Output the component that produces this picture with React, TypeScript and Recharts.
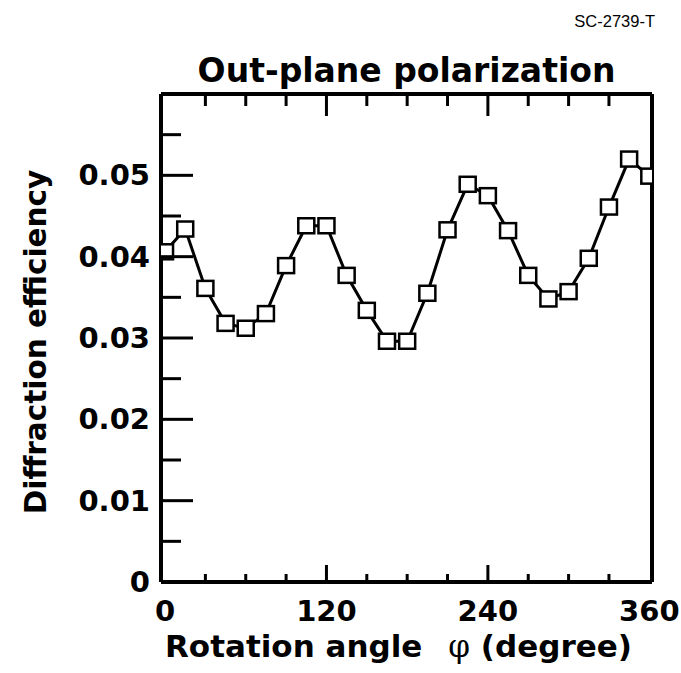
import { LineChart, Line, XAxis, YAxis, Label } from 'recharts';

// rotation angle (deg) and measured diffraction efficiency
const angles = [0, 15, 30, 45, 60, 75, 90, 105, 120, 135, 150, 165, 180, 195, 210, 225, 240, 255, 270, 285, 300, 315, 330, 345, 360];
const efficiency = [
  0.0406, 0.0434, 0.0361, 0.0318, 0.0312, 0.033, 0.0389, 0.0438, 0.0438, 0.0377, 0.0334, 0.0296, 0.0296,
  0.0355, 0.0433, 0.0489, 0.0475, 0.0432, 0.0377, 0.0348, 0.0357, 0.0398, 0.0461, 0.052, 0.0499,
];

const xTicks = [0, 30, 60, 90, 120, 150, 180, 210, 240, 270, 300, 330, 360];
const xLabeled = [0, 120, 240, 360];
const yTicks = [0, 0.005, 0.01, 0.015, 0.02, 0.025, 0.03, 0.035, 0.04, 0.045, 0.05, 0.055, 0.06];
const yLabeled = ['0', '0.01', '0.02', '0.03', '0.04', '0.05'];

const rows = angles.map((angle, i) => ({ angle, value: efficiency[i] }));

const FONT = '"DejaVu Sans", "Liberation Sans", sans-serif';
const INK = '#000';
// the frame of the original sits a little outside 0..360
const X_DOMAIN = [-3, 362];

const isMajorX = (v: number) => v % 120 === 0;
const isMajorY = (v: number) => Math.abs(v * 100 - Math.round(v * 100)) < 1e-6;
const fmtY = (v: number) => (v === 0 ? '0' : v.toFixed(2));

const BottomTick = (props: any) => {
  const { x, y, payload } = props;
  const v = payload.value;
  const len = isMajorX(v) ? 17 : 8;
  const inner = v > 0 && v < 360;
  return (
    <g>
      {inner && <line x1={x} y1={y} x2={x} y2={y - len} stroke={INK} strokeWidth={3} />}
      {xLabeled.includes(v) && (
        <text x={x} y={y + 39} textAnchor="middle" fontFamily={FONT} fontWeight="bold" fontSize={29} fill={INK}>
          {v}
        </text>
      )}
    </g>
  );
};

const TopTick = (props: any) => {
  const { x, y, payload } = props;
  const v = payload.value;
  if (v <= 0 || v >= 360) return <g />;
  const len = isMajorX(v) ? 22 : 12;
  return <line x1={x} y1={y} x2={x} y2={y + len} stroke={INK} strokeWidth={3} />;
};

const LeftTick = (props: any) => {
  const { x, y, payload } = props;
  const v = payload.value;
  const major = isMajorY(v);
  const inner = v > 0 && v < 0.06;
  const label = fmtY(v);
  return (
    <g>
      {inner && <line x1={x} y1={y} x2={x + (major ? 32 : 20)} y2={y} stroke={INK} strokeWidth={3} />}
      {major && yLabeled.includes(label) && (
        <text x={x - 11} y={y + 10} textAnchor="end" fontFamily={FONT} fontWeight="bold" fontSize={29} fill={INK}>
          {label}
        </text>
      )}
    </g>
  );
};

const RightTick = (props: any) => {
  const { x, y, payload } = props;
  const v = payload.value;
  if (v <= 0 || v >= 0.06) return <g />;
  const len = isMajorY(v) ? 33 : 17;
  return <line x1={x} y1={y} x2={x - len} y2={y} stroke={INK} strokeWidth={3} />;
};

const SquareDot = (props: any) => {
  const { cx, cy, index } = props;
  return (
    <rect key={`sq-${index}`} x={cx - 8} y={cy - 7.5} width={16} height={15} fill="#fff" stroke={INK} strokeWidth={2.5} />
  );
};

const frame = { stroke: INK, strokeWidth: 4 };

export default function App() {
  return (
    <div style={{ position: 'absolute', left: 0, top: 0, width: 681, height: 673, background: '#fff' }}>
      <LineChart width={681} height={673} data={rows} margin={{ top: 0, right: 0, bottom: 0, left: 0 }}>
        <XAxis
          xAxisId="top"
          orientation="top"
          type="number"
          dataKey="angle"
          domain={X_DOMAIN}
          allowDataOverflow
          ticks={xTicks}
          interval={0}
          height={94}
          tickLine={false}
          tickSize={0}
          tickMargin={0}
          axisLine={frame}
          tick={TopTick}
        >
          <Label
            content={(p: any) => {
              const vb = p.viewBox;
              return (
                <g>
                  <text x={vb.x + vb.width / 2} y={vb.y + 82} textAnchor="middle" fontFamily={FONT} fontWeight="bold" fontSize={33} fill={INK}>
                    Out-plane polarization
                  </text>
                  <text x={655} y={27} textAnchor="end" fontFamily='"Liberation Sans", Arial, sans-serif' fontSize={16.5} fill={INK}>
                    SC-2739-T
                  </text>
                </g>
              );
            }}
          />
        </XAxis>
        <XAxis
          xAxisId="bottom"
          type="number"
          dataKey="angle"
          domain={X_DOMAIN}
          allowDataOverflow
          ticks={xTicks}
          interval={0}
          height={91}
          tickLine={false}
          tickSize={0}
          tickMargin={0}
          axisLine={frame}
          tick={BottomTick}
        >
          <Label
            content={(p: any) => {
              const vb = p.viewBox;
              return (
                <text x={vb.x + 4} y={vb.y + 75} fontFamily={FONT} fontWeight="bold" fontSize={31} fill={INK}>
                  Rotation angle
                  <tspan dx={26} fontWeight="normal" fontFamily='"DejaVu Serif", serif'>φ</tspan>
                  <tspan> (degree)</tspan>
                </text>
              );
            }}
          />
        </XAxis>
        <YAxis
          yAxisId="left"
          type="number"
          domain={[0, 0.06]}
          ticks={yTicks}
          interval={0}
          width={161}
          tickLine={false}
          tickSize={0}
          tickMargin={0}
          axisLine={frame}
          tick={LeftTick}
        >
          <Label
            content={(p: any) => {
              const vb = p.viewBox;
              const cy = vb.y + vb.height / 2 + 4;
              return (
                <text
                  x={46}
                  y={cy}
                  transform={`rotate(-90, 46, ${cy})`}
                  textAnchor="middle"
                  fontFamily={FONT}
                  fontWeight="bold"
                  fontSize={29.5}
                  fill={INK}
                >
                  Diffraction efficiency
                </text>
              );
            }}
          />
        </YAxis>
        <YAxis
          yAxisId="right"
          orientation="right"
          type="number"
          domain={[0, 0.06]}
          ticks={yTicks}
          interval={0}
          width={29}
          tickLine={false}
          tickSize={0}
          tickMargin={0}
          axisLine={frame}
          tick={RightTick}
        />
        <Line
          xAxisId="bottom"
          yAxisId="left"
          type="linear"
          dataKey="value"
          stroke={INK}
          strokeWidth={3}
          dot={SquareDot}
          activeDot={false}
          isAnimationActive={false}
        />
      </LineChart>
    </div>
  );
}
